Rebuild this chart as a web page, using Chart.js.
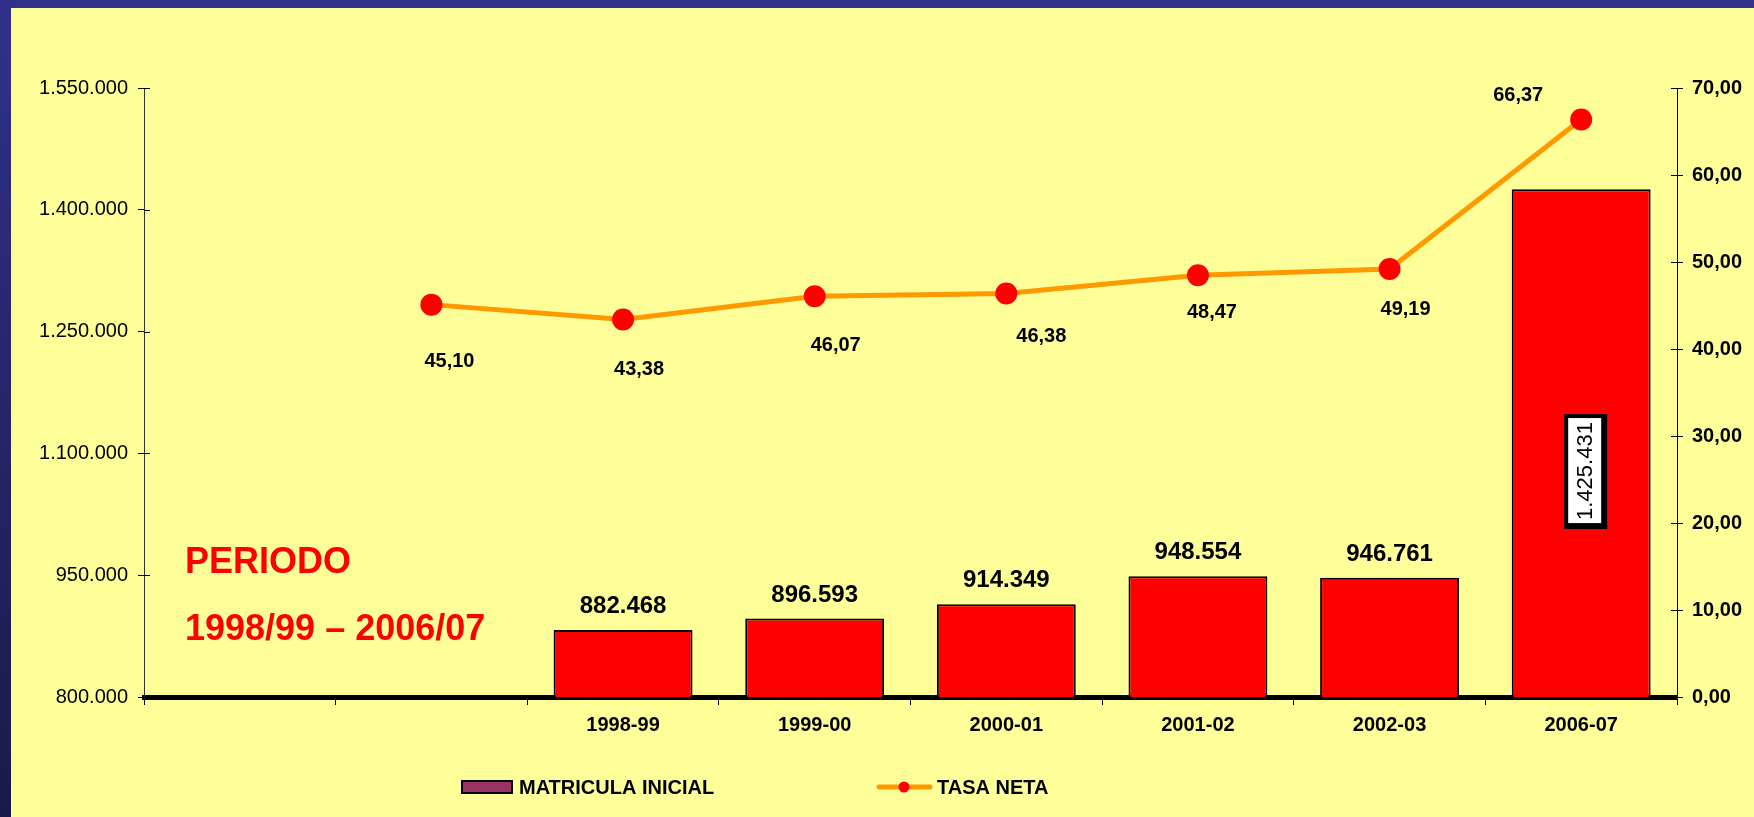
<!DOCTYPE html>
<html>
<head>
<meta charset="utf-8">
<title>Matricula inicial y tasa neta</title>
<script src="https://cdn.jsdelivr.net/npm/chart.js@4"></script>
<style>
    html, body { margin: 0; padding: 0; }
    body { width: 1754px; height: 817px; background: #FFFF99; position: relative; overflow: hidden; }
    #topBand { position: absolute; left: 0; top: 0; width: 1754px; height: 8px; background: #31318B; }
    #leftBand { position: absolute; left: 0; top: 0; width: 11px; height: 817px; background: linear-gradient(#31318B, #1A1A48); }
    #wrap { position: absolute; left: 0; top: 0; width: 1754px; height: 817px; }
</style>
</head>
<body>
<div id="topBand"></div>
<div id="leftBand"></div>
<div id="wrap"><canvas id="matriculaChart"></canvas></div>
<script>
// categorias (las dos primeras vacias, como en el original)
const categories = ['', '', '1998-99', '1999-00', '2000-01', '2001-02', '2002-03', '2006-07'];
const matricula = [null, null, 882468, 896593, 914349, 948554, 946761, 1425431];
const tasaNeta = [null, 45.10, 43.38, 46.07, 46.38, 48.47, 49.19, 66.37];
const leftTicks = [800000, 950000, 1100000, 1250000, 1400000, 1550000];
const rightTicks = [0, 10, 20, 30, 40, 50, 60, 70];

// desplazamiento de las etiquetas de la linea respecto al punto (dx, dy hasta el borde superior)
const lineLabelOffsets = [null, [18, 49], [16, 42], [21, 41], [35, 35], [14, 29], [16, 32], [-63, -32]];

const FONT = 'Liberation Sans, Arial, sans-serif';

function fmtMiles(v) {
    return String(v).replace(/\B(?=(\d{3})+(?!\d))/g, '.');
}
function fmtDec(v) {
    return v.toFixed(2).replace('.', ',');
}

const labelsPlugin = {
    id: 'labelsPlugin',
    afterDraw(chart) {
        const ctx = chart.ctx;
        const area = chart.chartArea;
        const yS = chart.scales.y;
        const y1S = chart.scales.y1;
        ctx.save();

        // marcas de los ejes hacia dentro
        ctx.strokeStyle = '#000';
        ctx.lineWidth = 1;
        yS.ticks.forEach(t => {
            const p = Math.round(yS.getPixelForValue(t.value)) + 0.5;
            ctx.beginPath(); ctx.moveTo(area.left, p); ctx.lineTo(area.left + 6, p); ctx.stroke();
        });
        y1S.ticks.forEach(t => {
            const p = Math.round(y1S.getPixelForValue(t.value)) + 0.5;
            ctx.beginPath(); ctx.moveTo(area.right - 6, p); ctx.lineTo(area.right, p); ctx.stroke();
        });

        // etiquetas de las barras
        const barMeta = chart.getDatasetMeta(0);
        const last = matricula.length - 1;
        barMeta.data.forEach((bar, i) => {
            if (matricula[i] == null) return;
            if (i === last) {
                const cx = bar.x + 4;
                const cy = (bar.y + area.bottom) / 2 + 28;
                ctx.fillStyle = '#000';
                ctx.fillRect(cx - 21, cy - 57, 43, 115);
                ctx.fillStyle = '#fff';
                ctx.fillRect(cx - 17, cy - 53, 33, 105);
                ctx.translate(cx, cy);
                ctx.rotate(-Math.PI / 2);
                ctx.fillStyle = '#000';
                ctx.font = '22px ' + FONT;
                ctx.textAlign = 'center';
                ctx.textBaseline = 'middle';
                ctx.fillText(fmtMiles(matricula[i]), 0, 1);
                ctx.setTransform(1, 0, 0, 1, 0, 0);
                return;
            }
            ctx.fillStyle = '#000';
            ctx.font = 'bold 24px ' + FONT;
            ctx.textAlign = 'center';
            ctx.textBaseline = 'alphabetic';
            ctx.fillText(fmtMiles(matricula[i]), bar.x, bar.y - 17);
        });

        // etiquetas de la linea
        const lineMeta = chart.getDatasetMeta(1);
        ctx.font = 'bold 20px ' + FONT;
        ctx.textAlign = 'center';
        ctx.textBaseline = 'top';
        ctx.fillStyle = '#000';
        lineMeta.data.forEach((pt, i) => {
            if (tasaNeta[i] == null) return;
            const off = lineLabelOffsets[i];
            ctx.fillText(fmtDec(tasaNeta[i]), pt.x + off[0], pt.y + off[1] - 2);
        });

        // texto del periodo
        ctx.fillStyle = '#FF0000';
        ctx.font = 'bold 36px ' + FONT;
        ctx.textAlign = 'left';
        ctx.textBaseline = 'alphabetic';
        ctx.fillText('PERIODO', area.left + 41, 573);
        ctx.fillText('1998/99 \u2013 2006/07', area.left + 41, 640);

        // leyenda
        ctx.fillStyle = '#993366';
        ctx.fillRect(462, 781, 50, 12);
        ctx.strokeStyle = '#000';
        ctx.lineWidth = 2;
        ctx.strokeRect(462, 781, 50, 12);
        ctx.fillStyle = '#000';
        ctx.font = 'bold 20px ' + FONT;
        ctx.textBaseline = 'middle';
        ctx.fillText('MATRICULA INICIAL', 519, 788);

        ctx.strokeStyle = '#FF9900';
        ctx.lineWidth = 5;
        ctx.lineCap = 'round';
        ctx.beginPath(); ctx.moveTo(879, 787); ctx.lineTo(930, 787); ctx.stroke();
        ctx.fillStyle = '#FF0000';
        ctx.beginPath(); ctx.arc(904, 787, 5.5, 0, Math.PI * 2); ctx.fill();
        ctx.fillStyle = '#000';
        ctx.fillText('TASA NETA', 937, 788);

        ctx.restore();
    }
};

document.addEventListener('DOMContentLoaded', () => {
    Chart.defaults.font.family = FONT;
    Chart.defaults.color = '#000';

    new Chart(document.getElementById('matriculaChart').getContext('2d'), {
        data: {
            labels: categories,
            datasets: [{
                type: 'bar',
                label: 'MATRICULA INICIAL',
                data: matricula,
                yAxisID: 'y',
                backgroundColor: '#FF0000',
                borderColor: '#000',
                borderWidth: 2,
                categoryPercentage: 1,
                barPercentage: 0.725,
                order: 2
            }, {
                type: 'line',
                label: 'TASA NETA',
                data: tasaNeta,
                yAxisID: 'y1',
                borderColor: '#FF9900',
                borderWidth: 5,
                tension: 0,
                pointRadius: 11,
                pointBackgroundColor: '#FF0000',
                pointBorderWidth: 0,
                order: 1
            }]
        },
        options: {
            responsive: true,
            maintainAspectRatio: false,
            animation: false,
            layout: { padding: { top: 88, left: 0, right: 0, bottom: 0 } },
            plugins: {
                legend: { display: false },
                tooltip: { enabled: false }
            },
            scales: {
                x: {
                    offset: true,
                    afterFit: s => { s.height = 120; },
                    border: { color: '#000', width: 5 },
                    grid: { offset: true, drawOnChartArea: false, tickLength: 8, color: '#000' },
                    ticks: { font: { size: 20, weight: 'bold' }, padding: 8, maxRotation: 0, autoSkip: false }
                },
                y: {
                    position: 'left',
                    min: 800000,
                    max: 1550000,
                    afterFit: s => { s.width = 144; },
                    afterBuildTicks: s => { s.ticks = leftTicks.map(v => ({ value: v })); },
                    border: { color: '#333', width: 1 },
                    grid: { drawOnChartArea: false, tickLength: 6, color: '#000' },
                    ticks: { font: { size: 20 }, padding: 10, callback: v => fmtMiles(v) }
                },
                y1: {
                    position: 'right',
                    min: 0,
                    max: 70,
                    afterFit: s => { s.width = 77; },
                    afterBuildTicks: s => { s.ticks = rightTicks.map(v => ({ value: v })); },
                    border: { color: '#000', width: 1 },
                    grid: { drawOnChartArea: false, tickLength: 6, color: '#000' },
                    ticks: { font: { size: 20, weight: 'bold' }, padding: 9, callback: v => fmtDec(v) }
                }
            }
        },
        plugins: [labelsPlugin]
    });
});
</script>
</body>
</html>
